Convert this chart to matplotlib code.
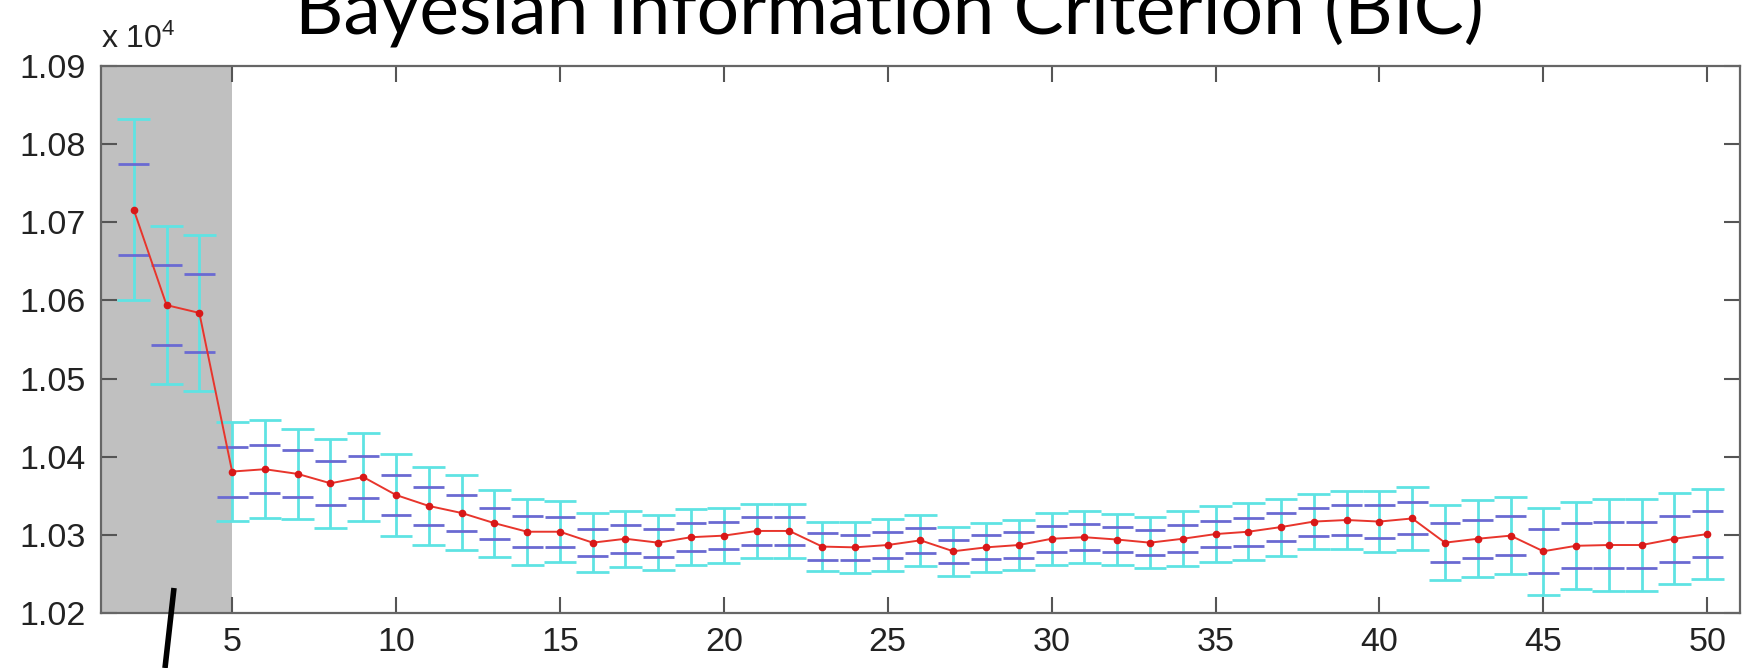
import matplotlib
matplotlib.use("Agg")
import matplotlib.pyplot as plt
from matplotlib.lines import Line2D
import numpy as np

plt.rcParams['mathtext.fontset'] = 'custom'
plt.rcParams['mathtext.rm'] = 'Liberation Sans'
plt.rcParams['mathtext.it'] = 'Liberation Sans'

# ---- data ----
k_values = list(range(2, 51))
bic_mean = [10716, 10594, 10584, 10381, 10384, 10378, 10366, 10374, 10351, 10337,
            10328, 10315, 10304, 10304, 10290, 10295, 10290, 10297, 10299, 10305,
            10305, 10285, 10284, 10287, 10293, 10279, 10284, 10287, 10295, 10297,
            10294, 10290, 10295, 10301, 10304, 10310, 10317, 10319, 10317, 10321,
            10290, 10295, 10299, 10279, 10286, 10287, 10287, 10295, 10301]
inner_err = [58, 51, 50, 32, 31, 30, 28, 27, 26, 24,
             23, 20, 20, 19, 17.5, 18, 18, 18, 17.5, 17.5,
             17.5, 17, 16, 17, 16, 15, 15.5, 16.5, 16.5, 17,
             16.5, 16, 17, 17, 18, 17.5, 18, 19.7, 20.7, 20.5,
             25, 24.5, 25, 28, 28.6, 29.5, 29.5, 29.5, 29.5]
outer_err = [116, 101, 100, 63, 63, 58, 57, 56, 52, 50,
             48, 43, 42, 39, 38, 36, 35.5, 36, 35.5, 35,
             35, 31.5, 33, 33, 33, 31.5, 31, 32.5, 33, 33,
             33, 32.5, 35, 35.5, 36.6, 36.5, 35.4, 37, 38.5, 40,
             48, 49, 49.4, 56, 55.8, 58.4, 58.4, 58.5, 57.7]
x_ticks = [5, 10, 15, 20, 25, 30, 35, 40, 45, 50]
y_ticks = [10200, 10300, 10400, 10500, 10600, 10700, 10800, 10900]
y_tick_labels = ['1.02', '1.03', '1.04', '1.05', '1.06', '1.07', '1.08', '1.09']
title = 'Bayesian Information Criterion (BIC)'

x = np.array(k_values, dtype=float)
m = np.array(bic_mean, dtype=float)
ie = np.array(inner_err, dtype=float)
oe = np.array(outer_err, dtype=float)

W, H, DPI = 1762, 668, 100
fig = plt.figure(figsize=(W / DPI, H / DPI), dpi=DPI)
ax = fig.add_axes([101 / W, 1 - 613 / H, (1740 - 101) / W, (613 - 66) / H])

ax.axvspan(1, 5, color='#c0c0c0', zorder=0, lw=0)

cyan = '#5fe3e3'
blue = '#6a6ad2'
# outer (cyan) bars
ax.vlines(x, m - oe, m + oe, color=cyan, lw=2.0, zorder=2)
ax.hlines(m + oe, x - 0.5, x + 0.5, color=cyan, lw=2.0, zorder=2)
ax.hlines(m - oe, x - 0.5, x + 0.5, color=cyan, lw=2.0, zorder=2)
# inner (blue) bars
ax.hlines(m + ie, x - 0.47, x + 0.47, color=blue, lw=2.0, zorder=3)
ax.hlines(m - ie, x - 0.47, x + 0.47, color=blue, lw=2.0, zorder=3)
# mean line
ax.plot(x, m, color='#e8352c', lw=1.4, marker='o', ms=4.5,
        mfc='#d81818', mec='#d81818', zorder=4)

ax.set_xlim(1, 51)
ax.set_ylim(10200, 10900)
ax.set_xticks(x_ticks)
ax.set_yticks(y_ticks)
ax.set_yticklabels(y_tick_labels)
ax.tick_params(direction='in', top=True, right=True, length=11.5, width=1.5,
               color='#555555', labelsize=24.5, labelcolor='#222222')
ax.tick_params(axis='x', pad=10)
ax.tick_params(axis='y', pad=11)
for lab in ax.get_xticklabels() + ax.get_yticklabels():
    lab.set_fontfamily('Liberation Sans')
for sp in ax.spines.values():
    sp.set_color('#666666')
    sp.set_linewidth(1.6)

ax.text(0.0, 1.033, r'x 10$^{4}$', transform=ax.transAxes, ha='left', va='baseline',
        fontsize=23, color='#222222', family='Liberation Sans')

fig.text(889 / W, 1 - 35 / H, title, ha='center', va='baseline', fontsize=54,
         family='Lato', color='black')

fig.add_artist(Line2D([174 / W, 165 / W], [1 - 588 / H, 0.0], transform=fig.transFigure,
                      color='black', lw=4.0, solid_capstyle='butt'))

fig.savefig('out.png', dpi=DPI)
